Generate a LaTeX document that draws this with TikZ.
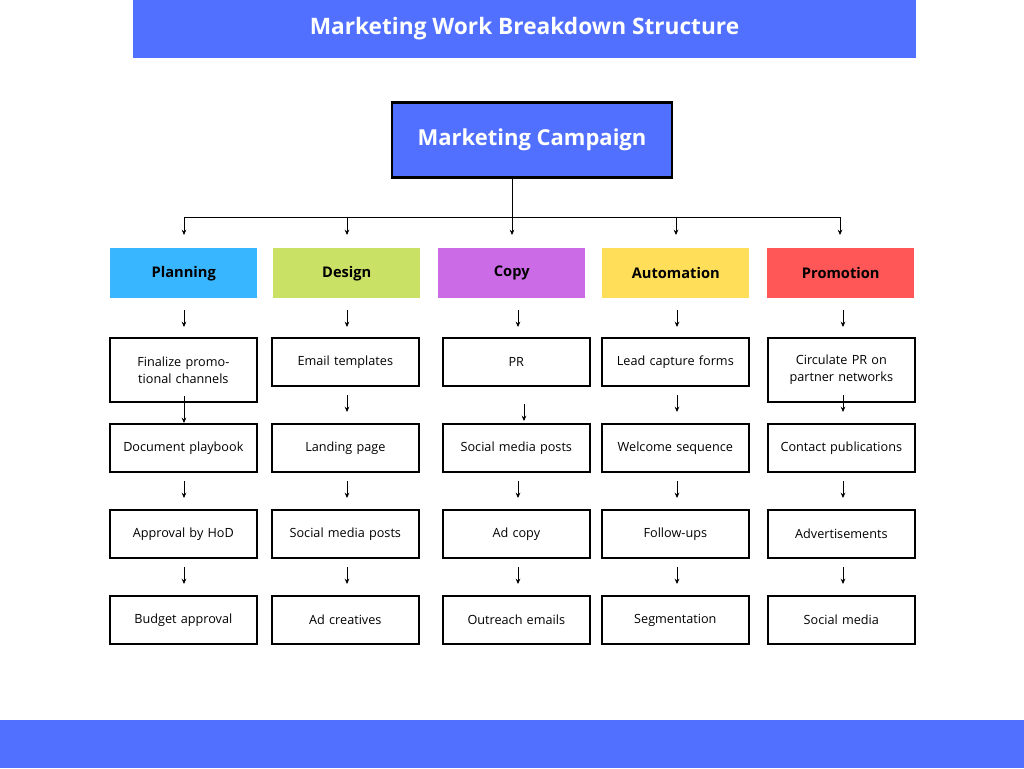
\documentclass[tikz,border=0pt]{standalone}
\usepackage{fontspec}
\setmainfont{Open Sans}
\usetikzlibrary{arrows.meta}
\definecolor{bannerblue}{HTML}{5170FF}
\definecolor{cplan}{HTML}{38B6FF}
\definecolor{cdes}{HTML}{C9E265}
\definecolor{ccopy}{HTML}{CB6CE6}
\definecolor{cauto}{HTML}{FFDE59}
\definecolor{cpromo}{HTML}{FF5757}
\begin{document}
\begin{tikzpicture}[x=0.75pt,y=-0.75pt,
  cat/.style={minimum width=110.25pt,minimum height=37.5pt,font=\fontsize{11}{13}\selectfont\bfseries,anchor=north west},
  task/.style={draw=black,line width=1.5pt,minimum width=110pt,align=center,font=\fontsize{9.5}{12.5}\selectfont,anchor=north west,text width=100pt},
  arr/.style={-{Stealth[length=4pt,width=3.5pt]},line width=0.7pt}]
\useasboundingbox (0,0) rectangle (1024,768);
\fill[bannerblue] (133,0) rectangle (916,58);
\node[text=white,font=\fontsize{17}{20}\selectfont\bfseries] (title) at (524.5,29) {Marketing Work Breakdown Structure};
\fill[bannerblue] (0,720) rectangle (1024,768);
\node[draw=black,line width=2.2pt,fill=bannerblue,minimum width=210pt,minimum height=56pt,text=white,font=\fontsize{16.5}{20}\selectfont\bfseries] (root) at (532,140) {Marketing Campaign};
\coordinate (j) at (512,217);
\draw[line width=0.7pt] (root.south -| j) -- (j);
\draw[line width=0.7pt] (184,217) -- (840,217);
\foreach \x in {184,347,512,676,840} \draw[arr] (\x,217) -- (\x,235);
\node[cat,fill=cplan] (c1) at (110,248) {Planning};
\node[cat,fill=cdes] (c2) at (273,248) {Design};
\node[cat,fill=ccopy] (c3) at (438,248) {Copy};
\node[cat,fill=cauto] (c4) at (602,248) {Automation};
\node[cat,fill=cpromo] (c5) at (767,248) {Promotion};
% tasks
\def\row#1#2#3#4#5#6{%
\node[task,minimum height=#2] (t#1a) at (109,#1) {#3};
\node[task,minimum height=#2] (t#1b) at (271,#1) {#4};
\node[task,minimum height=#2] (t#1c) at (442,#1) {#5};
\node[task,minimum height=#2] (t#1d) at (601,#1) {#6};}
\node[task,minimum height=48pt] (p1) at (109,337) {Finalize promotional channels};
\node[task,minimum height=36pt] (d1) at (271,337) {Email templates};
\node[task,minimum height=36pt] (y1) at (442,337) {PR};
\node[task,minimum height=36pt] (a1) at (601,337) {Lead capture forms};
\node[task,minimum height=48pt] (m1) at (767,337) {Circulate PR on partner networks};
\node[task,minimum height=36pt] (p2) at (109,423) {Document playbook};
\node[task,minimum height=36pt] (d2) at (271,423) {Landing page};
\node[task,minimum height=36pt] (y2) at (442,423) {Social media posts};
\node[task,minimum height=36pt] (a2) at (601,423) {Welcome sequence};
\node[task,minimum height=36pt] (m2) at (767,423) {Contact publications};
\node[task,minimum height=36pt] (p3) at (109,509) {Approval by HoD};
\node[task,minimum height=36pt] (d3) at (271,509) {Social media posts};
\node[task,minimum height=36pt] (y3) at (442,509) {Ad copy};
\node[task,minimum height=36pt] (a3) at (601,509) {Follow-ups};
\node[task,minimum height=36pt] (m3) at (767,509) {Advertisements};
\node[task,minimum height=36pt] (p4) at (109,595) {Budget approval};
\node[task,minimum height=36pt] (d4) at (271,595) {Ad creatives};
\node[task,minimum height=36pt] (y4) at (442,595) {Outreach emails};
\node[task,minimum height=36pt] (a4) at (601,595) {Segmentation};
\node[task,minimum height=36pt] (m4) at (767,595) {Social media};
% arrows
\foreach \x/\a/\b in {184/310/327,347/310/327,518/310/327,677/310/327,843/310/327,
  184/396/423,347/395/412,524/404/421,677/395/412,843/395/412,
  184/481/498,347/481/498,518/481/498,677/481/498,843/481/498,
  184/567/584,347/567/584,518/567/584,677/567/584,843/567/584}
  \draw[arr] (\x,\a) -- (\x,\b);
\end{tikzpicture}
\end{document}
